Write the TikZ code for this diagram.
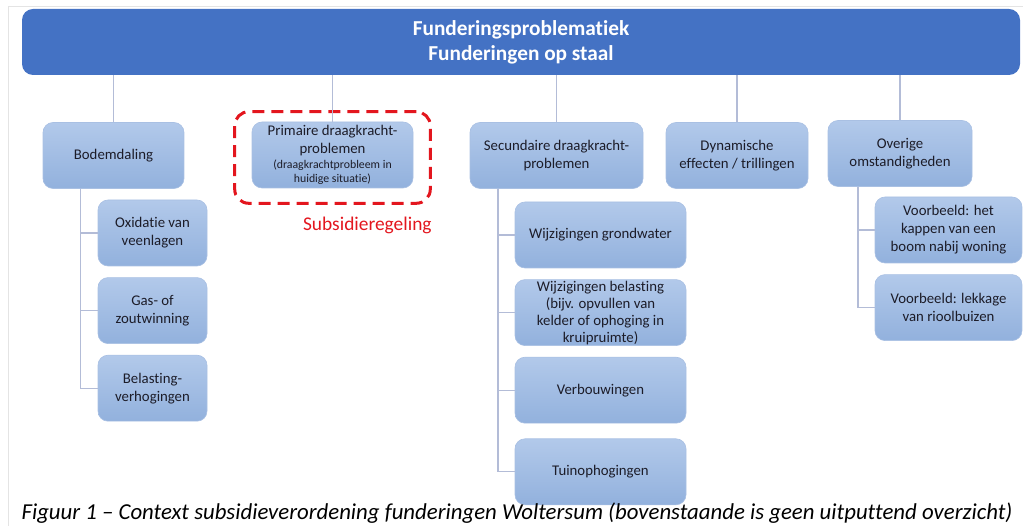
\documentclass[tikz,border=0pt]{standalone}
\usepackage{fontspec}
\setmainfont{Carlito}[Ligatures={NoCommon}]
\usepackage{xcolor}
\usetikzlibrary{positioning, fit}

\definecolor{headblue}{HTML}{4472C4}
\definecolor{boxtop}{HTML}{B2C9EA}
\definecolor{boxbot}{HTML}{92B1DD}
\definecolor{boxline}{HTML}{A9C0E3}
\definecolor{boxtext}{HTML}{1C1C28}
\definecolor{edgegray}{HTML}{B3BCD7}
\definecolor{subsred}{HTML}{E3161E}
\definecolor{framegray}{HTML}{E4E4E4}

\newcommand{\smalltxt}{\fontsize{11.8pt}{13pt}\selectfont}

\begin{document}
\begin{tikzpicture}[
  x=1pt, y=-1pt,
  box/.style={rectangle, rounded corners=10pt, top color=boxtop, bottom color=boxbot,
    draw=boxline, line width=0.6pt, align=center, text=boxtext, inner sep=2pt,
    font=\fontsize{14.8pt}{18pt}\selectfont, minimum height=66pt},
  headbox/.style={rectangle, rounded corners=11pt, fill=headblue, draw=none, align=center,
    text=white, font=\fontsize{21.3pt}{25pt}\selectfont\bfseries,
    minimum width=998pt, minimum height=66pt},
  dashbox/.style={draw=subsred, line width=3pt, rounded corners=14pt, dash pattern=on 12pt off 7pt},
  edge/.style={draw=edgegray, line width=1.2pt}
]
\useasboundingbox (0,0) rectangle (1023,526);
\draw[framegray, line width=0.8pt] (8,526) -- (8,6) -- (1023,6);

% top
\node[headbox] (head) at (521,42) {Funderingsproblematiek\\Funderingen op staal};

% first level
\node[box, minimum width=141pt] (bod) at (113.5,155.5) {Bodemdaling};
\node[box, minimum width=161pt] (prim) at (332.5,155)
  {Primaire draagkracht-\\problemen\\[-3pt]{\smalltxt (draagkrachtprobleem in}\\[-4pt]{\smalltxt huidige situatie)}};
\node[box, minimum width=173pt] (sec) at (556.5,155.5) {Secundaire draagkracht-\\problemen};
\node[box, minimum width=142pt] (dyn) at (737,155.5) {Dynamische\\effecten / trillingen};
\node[box, minimum width=144pt] (ove) at (900,153.5) {Overige\\omstandigheden};

% subsidie
\coordinate (dnw) at ([shift={(-17pt,10pt)}]prim.north west);
\coordinate (dse) at ([shift={(17pt,-15pt)}]prim.south east);
\node[dashbox, fit=(dnw)(dse), inner sep=0pt] (subs) {};
\node[anchor=base east, inner sep=0pt, text=subsred, font=\fontsize{19.4pt}{22pt}\selectfont]
  (subslabel) at ([yshift=-26pt]subs.south east) {Subsidieregeling};

% bodemdaling
\node[box, minimum width=109pt] (oxi) at (152.5,233) {Oxidatie van\\veenlagen};
\node[box, minimum width=109pt, below=11pt of oxi] (gas) {Gas- of\\zoutwinning};
\node[box, minimum width=109pt, below=11pt of gas] (bel) {Belasting-\\verhogingen};

% secundair
\node[box, minimum width=171pt] (grw) at (600.5,235) {Wijzigingen grondwater};
\node[box, minimum width=171pt, inner ysep=0pt, below=11pt of grw,
  font=\fontsize{14.8pt}{17pt}\selectfont] (wbel)
  {Wijzigingen belasting\\(bijv. opvullen van\\kelder of ophoging in\\kruipruimte)};
\node[box, minimum width=171pt, below=11pt of wbel] (verb) {Verbouwingen};
\node[box, minimum width=171pt, below=15pt of verb] (tuin) {Tuinophogingen};

% overig
\node[box, minimum width=147pt] (vb1) at (948.5,230) {Voorbeeld: het\\kappen van een\\boom nabij woning};
\node[box, minimum width=147pt, below=11pt of vb1] (vb2) {Voorbeeld: lekkage\\van rioolbuizen};

% connectors
\foreach \n in {bod,prim,sec,dyn,ove}
  \draw[edge] (head.south -| \n.north) -- (\n.north);
\foreach \c in {oxi,gas,bel}
  \draw[edge] ([xshift=-33pt]bod.south) |- (\c.west);
\foreach \c in {grw,wbel,verb,tuin}
  \draw[edge] ([xshift=-58.5pt]sec.south) |- (\c.west);
\foreach \c in {vb1,vb2}
  \draw[edge] ([xshift=-42pt]ove.south) |- (\c.west);

% caption
\node[anchor=base, inner sep=0pt, font=\fontsize{22.8pt}{26pt}\selectfont\itshape] (cap) at (517,519)
  {Figuur 1 – Context subsidieverordening funderingen Woltersum (bovenstaande is geen uitputtend overzicht)};
\end{tikzpicture}
\end{document}
